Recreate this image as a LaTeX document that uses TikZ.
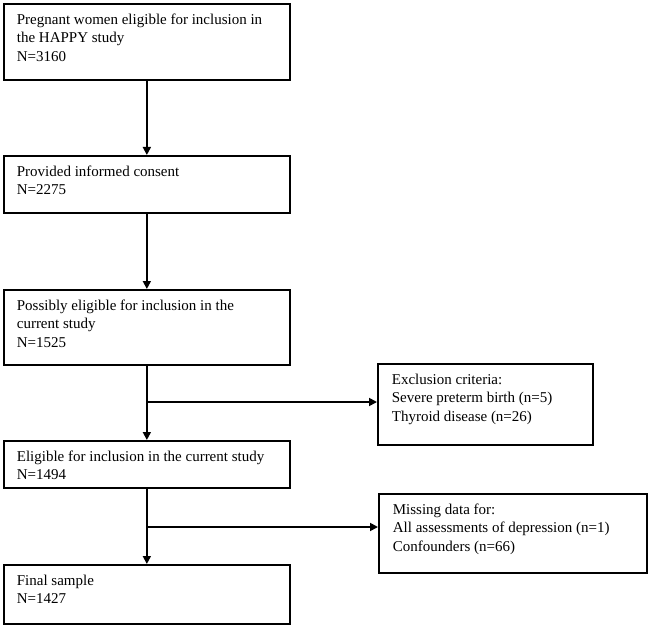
\documentclass[tikz,border=0pt]{standalone}
\usepackage{fontspec}
\setmainfont{Liberation Serif}
\usetikzlibrary{arrows.meta}

% text block with fixed width, height and first baseline
\newcommand{\boxtext}[4]{\parbox[t][#2][t]{#1}{\rule{0pt}{#3}#4}}

\begin{document}
\begin{tikzpicture}[x=1pt, y=-1pt,
    stagebox/.style={draw, line width=1.7pt, anchor=north west, inner xsep=13pt, inner ysep=0pt,
        font=\fontsize{15pt}{18.5pt}\selectfont},
    sidebox/.style={stagebox, inner xsep=14pt},
    flow/.style={line width=1.7pt, -{Triangle[length=8pt, width=8pt]}}]

    % Page
    \useasboundingbox (0,0) rectangle (649,626);

    \def\xl{3}        % left edge of the main column
    \def\wl{260pt}    % text width, main column
    \def\fb{20.5pt}   % first baseline in every box

    % Main column
    \node[stagebox] (pool) at (\xl,3)
        {\boxtext{\wl}{76pt}{\fb}{Pregnant women eligible for inclusion in\\the HAPPY study\\N=3160}};
    \node[stagebox] (consent) at (\xl,155)
        {\boxtext{\wl}{57pt}{\fb}{Provided informed consent\\N=2275}};
    \node[stagebox] (possible) at (\xl,289)
        {\boxtext{\wl}{75pt}{\fb}{Possibly eligible for inclusion in the\\current study\\N=1525}};
    \node[stagebox] (eligible) at (\xl,440)
        {\boxtext{\wl}{47pt}{\fb}{Eligible for inclusion in the current study\\N=1494}};
    \node[stagebox] (final) at (\xl,564)
        {\boxtext{\wl}{59pt}{\fb}{Final sample\\N=1427}};

    % Side boxes
    \node[sidebox] (excl) at (377,363)
        {\boxtext{187pt}{81pt}{\fb}{Exclusion criteria:\\Severe preterm birth (n=5)\\Thyroid disease (n=26)}};
    \node[sidebox] (missing) at (378,493)
        {\boxtext{240pt}{79pt}{\fb}{Missing data for:\\All assessments of depression (n=1)\\Confounders (n=66)}};

    % Arrows down
    \draw[flow] (pool.south) -- (consent.north);
    \draw[flow] (consent.south) -- (possible.north);
    \draw[flow] (possible.south) -- (eligible.north);
    \draw[flow] (eligible.south) -- (final.north);

    % Branches
    \coordinate (cut1) at (possible.south |- 0,402);
    \coordinate (cut2) at (eligible.south |- 0,527);
    \draw[flow] (cut1) -- (cut1 -| excl.west);
    \draw[flow] (cut2) -- (cut2 -| missing.west);

\end{tikzpicture}
\end{document}
